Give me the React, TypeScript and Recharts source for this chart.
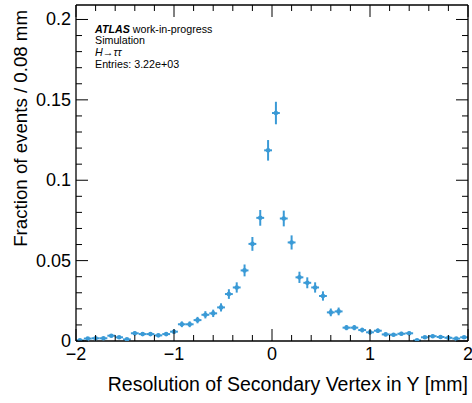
import React from 'react';
import { ScatterChart, Scatter, XAxis, YAxis, ErrorBar } from 'recharts';

// bin centres of the 0.08 mm bins
const binCenters = [
  -1.96, -1.88, -1.8, -1.72, -1.64, -1.56, -1.48, -1.4, -1.32, -1.24,
  -1.16, -1.08, -1.0, -0.92, -0.84, -0.76, -0.68, -0.6, -0.52, -0.44,
  -0.36, -0.28, -0.2, -0.12, -0.04, 0.04, 0.12, 0.2, 0.28, 0.36,
  0.44, 0.52, 0.6, 0.68, 0.76, 0.84, 0.92, 1.0, 1.08, 1.16,
  1.24, 1.32, 1.4, 1.48, 1.56, 1.64, 1.72, 1.8, 1.88, 1.96,
];

const fractions = [
  0.0004, 0.0015, 0.0017, 0.0017, 0.0033, 0.0023, 0.001, 0.0048, 0.0043, 0.0043,
  0.0035, 0.0043, 0.0058, 0.0104, 0.0104, 0.013, 0.0163, 0.0172, 0.0209, 0.0292,
  0.0333, 0.0439, 0.0604, 0.0766, 0.1186, 0.1418, 0.0762, 0.0613, 0.0396, 0.0362,
  0.0333, 0.028, 0.0178, 0.0184, 0.0083, 0.0083, 0.0068, 0.0054, 0.0064, 0.0041,
  0.0039, 0.0045, 0.0048, 0.0004, 0.0023, 0.003, 0.0025, 0.002, 0.0015, 0.0023,
];

const fractionErrors = [
  0.00035, 0.00068, 0.00073, 0.00073, 0.001, 0.00085, 0.00056, 0.0012, 0.00116, 0.00116,
  0.00104, 0.00116, 0.00134, 0.0018, 0.0018, 0.002, 0.00225, 0.0023, 0.00255, 0.003,
  0.0032, 0.0037, 0.0043, 0.0049, 0.0064, 0.007, 0.0049, 0.0044, 0.0035, 0.0034,
  0.0032, 0.0029, 0.0024, 0.0024, 0.0016, 0.0016, 0.00145, 0.0013, 0.0014, 0.0011,
  0.0011, 0.0012, 0.0012, 0.00035, 0.00085, 0.00097, 0.00088, 0.0008, 0.00068, 0.00085,
];

const binHalfWidth = 0.04;

const xTicks = [
  -2, -1.8, -1.6, -1.4, -1.2, -1, -0.8, -0.6, -0.4, -0.2, 0,
  0.2, 0.4, 0.6, 0.8, 1, 1.2, 1.4, 1.6, 1.8, 2,
];
const yTicks = [
  0, 0.01, 0.02, 0.03, 0.04, 0.05, 0.06, 0.07, 0.08, 0.09, 0.1,
  0.11, 0.12, 0.13, 0.14, 0.15, 0.16, 0.17, 0.18, 0.19, 0.2,
];

const data = binCenters.map((x, i) => ({
  x,
  y: fractions[i],
  ex: binHalfWidth,
  ey: fractionErrors[i],
}));

const BLUE = '#3a9ad6';
const FONT = 'Liberation Sans, Arial, Helvetica, sans-serif';

const isMajorX = (v: number) => Math.abs(v - Math.round(v)) < 1e-6;
const isMajorY = (v: number) => Math.abs(v * 20 - Math.round(v * 20)) < 1e-6;
const fmtX = (v: number) => String(Math.round(v)).replace('-', '\u2212');
const fmtY = (v: number) => String(Number(v.toFixed(2)));

const BottomTick = (props: any) => {
  const { x, y, payload } = props;
  const major = isMajorX(payload.value);
  return (
    <g>
      <line x1={x} x2={x} y1={y} y2={y - (major ? 12 : 6)} stroke="#000" />
      {major && (
        <text x={x} y={y + 18.5} textAnchor="middle" fontSize={18} fontFamily={FONT} fill="#000">
          {fmtX(payload.value)}
        </text>
      )}
    </g>
  );
};

const TopTick = (props: any) => {
  const { x, y, payload } = props;
  const major = isMajorX(payload.value);
  return <line x1={x} x2={x} y1={y} y2={y + (major ? 12 : 6)} stroke="#000" />;
};

const LeftTick = (props: any) => {
  const { x, y, payload } = props;
  const major = isMajorY(payload.value);
  return (
    <g>
      <line x1={x} x2={x + (major ? 12 : 6)} y1={y} y2={y} stroke="#000" />
      {major && (
        <text x={x - 5} y={y + 6} textAnchor="end" fontSize={18} fontFamily={FONT} fill="#000">
          {fmtY(payload.value)}
        </text>
      )}
    </g>
  );
};

const RightTick = (props: any) => {
  const { x, y, payload } = props;
  const major = isMajorY(payload.value);
  return <line x1={x} x2={x - (major ? 12 : 6)} y1={y} y2={y} stroke="#000" />;
};

const Dot = (props: any) => <circle cx={props.cx} cy={props.cy} r={2.3} fill={BLUE} />;

const frame = { stroke: '#000', strokeWidth: 1.3 };

export default function App() {
  return (
    <div style={{ position: 'absolute', left: 0, top: 0, background: '#fff' }}>
      <ScatterChart width={472} height={403} margin={{ top: 4, right: 3, bottom: 61, left: 75 }}>
        <XAxis
          xAxisId="b"
          dataKey="x"
          type="number"
          domain={[-2, 2]}
          allowDataOverflow
          ticks={xTicks}
          interval={0}
          height={1}
          tickSize={0}
          tickMargin={0}
          tickLine={false}
          axisLine={frame}
          tick={<BottomTick />}
        />
        <XAxis
          xAxisId="t"
          orientation="top"
          dataKey="x"
          type="number"
          domain={[-2, 2]}
          allowDataOverflow
          ticks={xTicks}
          interval={0}
          height={1}
          tickSize={0}
          tickMargin={0}
          tickLine={false}
          axisLine={frame}
          tick={<TopTick />}
        />
        <YAxis
          yAxisId="l"
          dataKey="y"
          type="number"
          domain={[0, 0.209]}
          allowDataOverflow
          ticks={yTicks}
          interval={0}
          width={1}
          tickSize={0}
          tickMargin={0}
          tickLine={false}
          axisLine={frame}
          tick={<LeftTick />}
        />
        <YAxis
          yAxisId="r"
          orientation="right"
          dataKey="y"
          type="number"
          domain={[0, 0.209]}
          allowDataOverflow
          ticks={yTicks}
          interval={0}
          width={1}
          tickSize={0}
          tickMargin={0}
          tickLine={false}
          axisLine={frame}
          tick={<RightTick />}
        />
        <Scatter
          xAxisId="b"
          yAxisId="l"
          data={data}
          shape={<Dot />}
          isAnimationActive={false}
        >
          <ErrorBar dataKey="ey" direction="y" width={0} stroke={BLUE} strokeWidth={2} />
          <ErrorBar dataKey="ex" direction="x" width={0} stroke={BLUE} strokeWidth={2} />
        </Scatter>

        <text
          x={27}
          y={10}
          transform="rotate(-90 27 10)"
          textAnchor="end"
          fontSize={18.7}
          fontFamily={FONT}
          fill="#000"
        >
          Fraction of events / 0.08 mm
        </text>
        <text x={468} y={391} textAnchor="end" fontSize={19.5} fontFamily={FONT} fill="#000">
          Resolution of Secondary Vertex in Y [mm]
        </text>

        <g fontFamily={FONT} fontSize={10.7} fill="#000">
          <text x={95} y={32.5}>
            <tspan fontWeight="bold" fontStyle="italic">ATLAS</tspan>
            <tspan> work-in-progress</tspan>
          </text>
          <text x={95} y={44.2}>Simulation</text>
          <text x={95} y={56}>
            <tspan fontStyle="italic">H</tspan>
            <tspan>{'\u2192'}</tspan>
            <tspan fontStyle="italic">{'\u03c4\u03c4'}</tspan>
          </text>
          <text x={95} y={67.7}>Entries: 3.22e+03</text>
        </g>
      </ScatterChart>
    </div>
  );
}
